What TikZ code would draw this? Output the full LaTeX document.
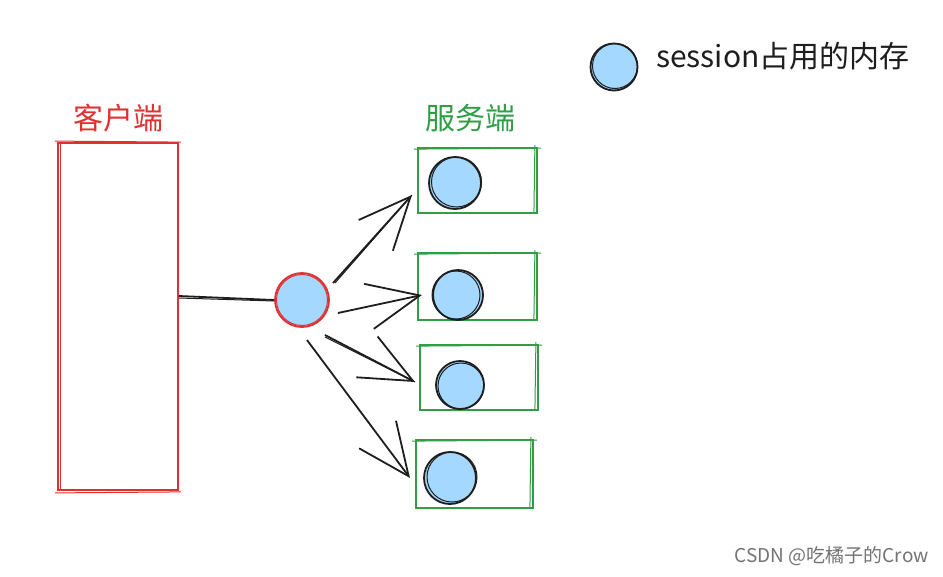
\documentclass[tikz,border=0pt]{standalone}
\usepackage{fontspec}
\setmainfont{Noto Sans CJK SC}
\newfontfamily\wmfont{Noto Sans CJK SC}
\usetikzlibrary{arrows.meta}
\definecolor{cred}{HTML}{E03131}
\definecolor{cgreen}{HTML}{2F9E44}
\definecolor{cblue}{HTML}{A5D8FF}
\definecolor{cink}{HTML}{1E1E1E}
\tikzset{
  x=1pt,y=-1pt,
  clientbox/.style={draw=cred,line width=1.8pt,minimum width=120pt,minimum height=347pt,inner sep=0pt},
  serverbox/.style={draw=cgreen,line width=1.8pt,inner sep=0pt},
  mem/.style={circle,draw=cink,fill=cblue,line width=1.8pt,inner sep=0pt},
  hubstyle/.style={circle,draw=cred,fill=cblue,line width=1.8pt,inner sep=0pt,minimum size=54pt},
  sketch/.style={line width=1pt},
  link/.style={draw=cink,line width=1.8pt},
  arr/.style={draw=cink,line width=1.8pt,-{Straight Barb[length=52pt,width=46pt,line width=1.8pt]}},
  lbl/.style={font=\fontsize{30}{32}\selectfont,inner sep=0pt},
}
\begin{document}
\begin{tikzpicture}
\useasboundingbox (0,0) rectangle (943,576);
\fill[white] (0,0) rectangle (943,576);

% client
\node[clientbox] (client) at (118,316.5) {};
\draw[cred,sketch] ([xshift=-2pt,yshift=1pt]client.north west) -- ([xshift=2pt]client.north east);
\draw[cred,sketch] ([xshift=3pt]client.north west) -- ([xshift=3pt,yshift=2pt]client.south west);
\draw[cred,sketch] ([xshift=-2pt,yshift=-2pt]client.south west) -- ([xshift=2pt,yshift=-1pt]client.south east);
\node[lbl,text=cred] (clientlbl) at (118,118) {客户端};

% hub
\node[hubstyle] (hub) at (302,300) {};
\draw[cred,sketch] (hub.center) circle[radius=25.5pt];
\draw[link] (client.east |- 0,296) -- (hub.west);
\draw[cink,sketch] ([yshift=-2pt]client.east |- 0,296) -- ([yshift=-1pt]hub.west);

% servers
\node[lbl,text=cgreen] (serverlbl) at (470,118) {服务端};
\node[serverbox,minimum width=119pt,minimum height=65pt] (s1) at (477.5,180.5) {};
\node[serverbox,minimum width=119pt,minimum height=67pt] (s2) at (477.5,286.5) {};
\node[serverbox,minimum width=118pt,minimum height=65pt] (s3) at (479,377.5) {};
\node[serverbox,minimum width=117pt,minimum height=68pt] (s4) at (474.5,474) {};
\foreach \s in {s1,s2,s3,s4}{
  \draw[cgreen,sketch] ([xshift=-3pt,yshift=-2pt]\s.north west) -- ([xshift=3pt,yshift=-1pt]\s.north east);
  \draw[cgreen,sketch] ([xshift=-4pt]\s.south east) -- ([xshift=-3pt,yshift=2pt]\s.north east);
}

% memory circles
\node[mem,minimum size=52pt] (m1) at (455,183) {};
\node[mem,minimum size=50pt] (m2) at (458,295) {};
\node[mem,minimum size=48pt] (m3) at (460,385) {};
\node[mem,minimum size=52pt] (m4) at (450,478) {};
\draw[cink,sketch] ([xshift=1.5pt,yshift=1pt]m1.center) circle[radius=25pt];
\draw[cink,sketch] ([xshift=-2pt]m2.center) circle[radius=24pt];
\draw[cink,sketch] ([xshift=1pt,yshift=-1pt]m3.center) circle[radius=23pt];
\draw[cink,sketch] ([xshift=2pt,yshift=1pt]m4.center) circle[radius=25pt];

% arrows
\coordinate (a1s) at (333,283); \coordinate (a1e) at (412,195);
\coordinate (a2s) at (338,313); \coordinate (a2e) at (422,295);
\coordinate (a3s) at (325,335); \coordinate (a3e) at (415,382);
\coordinate (a4s) at (307,340); \coordinate (a4e) at (410,478);
\draw[arr] (a1s) -- (a1e);
\draw[arr] (a2s) -- (a2e);
\draw[arr] (a3s) -- (a3e);
\draw[arr] (a4s) -- (a4e);
\draw[cink,sketch] ([xshift=2pt]a1s) -- (a1e);
\draw[cink,sketch] ([yshift=-2pt]a3s) -- (a3e);

% legend
\node[mem,minimum size=47pt] (lm) at (614,67) {};
\draw[cink,sketch] ([xshift=1pt,yshift=1pt]lm.center) circle[radius=22.5pt];
\node[lbl,anchor=west,text=cink,font=\fontsize{30}{32}\selectfont] (legtext) at (656,56) {session占用的内存};

% watermark
\node[inner sep=0pt,anchor=east,text=black!55,font=\wmfont\fontsize{19}{21}\selectfont] (wm) at (929,556) {CSDN @吃橘子的Crow};
\end{tikzpicture}
\end{document}
